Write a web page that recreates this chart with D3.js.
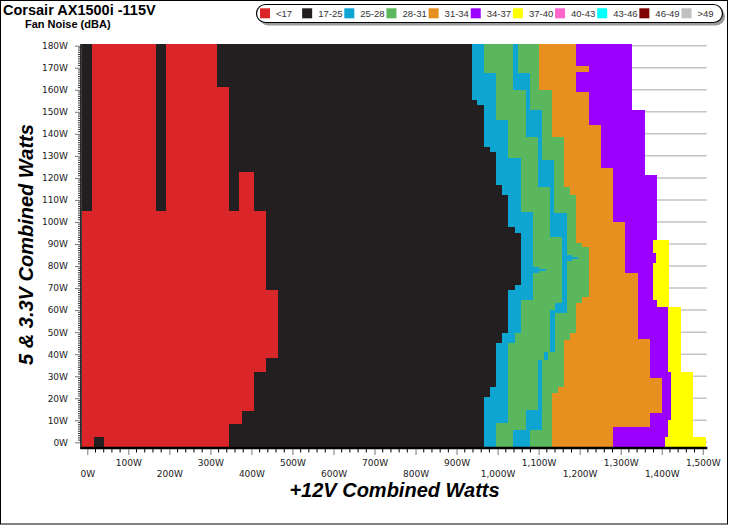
<!DOCTYPE html>
<html><head><meta charset="utf-8">
<script src="https://cdn.jsdelivr.net/npm/d3@7/dist/d3.min.js"></script>
<style>body{margin:0;background:#fff}svg{display:block}</style>
</head><body><svg id="c" width="729" height="525"></svg>
<script>
const chartTitle = "Corsair AX1500i -115V";
const chartSubtitle = "Fan Noise (dBA)";
const xTitle = "+12V Combined Watts";
const yTitle = "5 & 3.3V Combined Watts";
const legendLabels = ["<17","17-25","25-28","28-31","31-34","34-37","37-40","40-43","43-46","46-49",">49"];
const legendColors = ["#da2629","#231f20","#0ea5d3","#5bb75e","#e8901f","#9b00ff","#ffff00","#ff66cc","#00ffff","#7f0000","#c0c0c0"];
const xTicks = d3.range(0, 1501, 100);
const yTicks = d3.range(0, 181, 10);
const xExtent = [-13, 1510];
const yExtent = [-2.3, 180.8];

// Each boundary: [yTop W, yBottom W, right edge of the class in +12V W]
const yellowEdge = [[91.8,61.5,1417],[61.5,32.0,1446],[32.0,2.5,1477],[2.5,-2.3,1507]];
const purpleEdge = [[180.8,150.8,1327],[150.8,121.3,1359],[121.3,91.8,1388],[91.8,85.8,1378],[85.8,81.5,1386],[81.5,64.6,1378],[64.6,61.5,1388],[61.5,32.0,1415],[32.0,10.1,1423],[10.1,2.5,1415],[2.5,-2.3,1409]];
const orangeEdge = [[180.8,170.8,1191],[170.8,168.2,1223],[168.2,159.1,1191],[159.1,144.0,1223],[144.0,124.4,1251],[124.4,100.1,1281],[100.1,76.7,1310],[76.7,46.9,1341],[46.9,29.0,1371],[29.0,13.2,1400],[13.2,7.1,1371],[7.1,-2.3,1281]];
const green2Edge = [[180.8,159.9,1102],[159.9,138.7,1132],[138.7,116.0,1162],[116.0,112.2,1176],[112.2,90.3,1191],[90.3,88.5,1206],[88.5,66.1,1223],[66.1,63.1,1206],[63.1,49.5,1191],[49.5,46.4,1176],[46.4,25.2,1162],[25.2,22.4,1147],[22.4,-2.3,1132]];
const blue2Edge = [[180.8,167.5,1050],[167.5,150.8,1079],[150.8,128.1,1108],[128.1,103.9,1138],[103.9,85.0,1168],[85.0,84.1,1182],[84.1,83.2,1197],[83.2,82.3,1182],[82.3,58.5,1168],[58.5,41.1,1140],[41.1,37.4,1123],[37.4,5.6,1108],[5.6,-2.3,1079]];
const green1Edge = [[180.8,159.9,1038],[159.9,138.7,1068],[138.7,116.0,1098],[116.0,93.3,1128],[93.3,63.1,1156],[63.1,60.0,1140],[60.0,41.1,1128],[41.1,37.4,1113],[37.4,14.7,1098],[14.7,5.6,1068],[5.6,-2.3,1038]];
const blue1Edge = [[180.8,167.5,967],[167.5,146.3,996],[146.3,128.9,1026],[128.9,104.7,1057],[104.7,79.6,1087],[79.6,78.7,1101],[78.7,77.8,1117],[77.8,76.8,1101],[76.8,64.6,1087],[64.6,49.5,1057],[49.5,44.9,1042],[44.9,8.8,1026],[8.8,-2.3,996]];
const blackEdge = [[180.8,155.4,937],[155.4,153.1,950],[153.1,134.2,967],[134.2,131.9,981],[131.9,116.8,996],[116.8,112.2,1011],[112.2,97.9,1026],[97.9,94.9,1042],[94.9,71.4,1057],[71.4,69.1,1042],[69.1,49.5,1026],[49.5,44.9,1011],[44.9,25.2,996],[25.2,20.7,981],[20.7,-2.3,967]];
// Low-load cells: [x0 W, x1 W, y0 W, y1 W]
const redCells = [[12,167,105.1,180.8],[192,316,161.4,180.8],[192,345,105.1,161.4],[370,406,105.1,122.7],[-13,435,69.1,105.1],[-13,465,38.1,69.1],[-13,435,32.0,38.1],[-13,406,14.3,32.0],[-13,377,8.3,14.3],[-13,345,-2.3,8.3]];
const blackCells = [[16,41,-2.3,2.3]];

const svg = d3.select("#c");
const x = d3.scaleLinear().domain([0, 1500]).range([87.3, 702.75]);
const y = d3.scaleLinear().domain([0, 180]).range([442.3, 45.7]);

svg.append("rect").attr("x",0.5).attr("y",0.5).attr("width",727).attr("height",523.5)
  .attr("fill","#fff").attr("stroke","#000").attr("stroke-width",1);

// gridlines
svg.append("g").selectAll("line").data(yTicks).join("line")
  .attr("x1", x(xExtent[0]) - 1).attr("x2", x(xExtent[1]))
  .attr("y1", d => y(d)).attr("y2", d => y(d))
  .attr("stroke", "#c4c4c4").attr("stroke-width", 1.5);

// cells
const cellG = svg.append("g").attr("shape-rendering", "crispEdges");
const layers = [
  [6, yellowEdge],[5, purpleEdge],[4, orangeEdge],[3, green2Edge],
  [2, blue2Edge],[3, green1Edge],[2, blue1Edge],[1, blackEdge]
];
layers.forEach(([cls, edges]) => {
  cellG.append("g").selectAll("rect").data(edges).join("rect")
    .attr("x", x(xExtent[0])).attr("y", d => y(d[0]))
    .attr("width", d => x(d[2]) - x(xExtent[0]))
    .attr("height", d => y(d[1]) - y(d[0]))
    .attr("fill", legendColors[cls]);
});
[[0, redCells],[1, blackCells]].forEach(([cls, cells]) => {
  cellG.append("g").selectAll("rect").data(cells).join("rect")
    .attr("x", d => x(d[0])).attr("y", d => y(d[3]))
    .attr("width", d => x(d[1]) - x(d[0]))
    .attr("height", d => y(d[2]) - y(d[3]))
    .attr("fill", legendColors[cls]);
});

// Y axis
const yAxis = d3.axisLeft(y).tickValues(yTicks).tickFormat(d => d + "W").tickSize(6).tickPadding(7);
const yg = svg.append("g").attr("transform", "translate(81,0)").call(yAxis);
yg.select(".domain").remove();
yg.selectAll(".tick line").attr("stroke", "#777");
yg.selectAll(".tick text").attr("font-family", "'DejaVu Sans', Verdana, sans-serif").attr("font-size", 9).attr("fill", "#222");
svg.append("g").selectAll("line").data(d3.range(0, 181, 1).filter(d => d % 10 !== 0)).join("line")
  .attr("x1", 78).attr("x2", 81).attr("y1", d => y(d)).attr("y2", d => y(d))
  .attr("stroke", "#000").attr("stroke-width", 0.8);
svg.append("line").attr("x1", 81).attr("x2", 81).attr("y1", y(yExtent[1])).attr("y2", 449)
  .attr("stroke", "#000").attr("stroke-width", 1.5);

// X axis
svg.append("line").attr("x1", 80.5).attr("x2", x(xExtent[1]) + 0.5).attr("y1", 448).attr("y2", 448)
  .attr("stroke", "#000").attr("stroke-width", 2.5);
svg.append("g").selectAll("line").data(d3.range(0, 1501, 20).filter(d => d % 100 !== 0)).join("line")
  .attr("x1", d => x(d)).attr("x2", d => x(d)).attr("y1", 449).attr("y2", 452.5)
  .attr("stroke", "#000").attr("stroke-width", 1);
const xAxis = d3.axisBottom(x).tickValues(xTicks).tickFormat(d => d3.format(",")(d) + "W").tickSize(6).tickPadding(0);
const xg = svg.append("g").attr("transform", "translate(0,449)").call(xAxis);
xg.select(".domain").remove();
xg.selectAll(".tick line").attr("stroke", "#777");
xg.selectAll(".tick text")
  .attr("font-family", "'DejaVu Sans', Verdana, sans-serif").attr("font-size", 9).attr("fill", "#222")
  .attr("dy", null)
  .attr("y", (d, i) => i % 2 === 1 ? 17 : 28);

// titles
svg.append("text").attr("x", 3).attr("y", 15).text(chartTitle)
  .attr("font-family", "'Liberation Sans', Arial, sans-serif").attr("font-weight", "bold").attr("font-size", 14.5);
svg.append("text").attr("x", 25).attr("y", 28).text(chartSubtitle)
  .attr("font-family", "'Liberation Sans', Arial, sans-serif").attr("font-weight", "bold").attr("font-size", 11);
svg.append("text").attr("x", 394.5).attr("y", 497).attr("text-anchor", "middle").text(xTitle)
  .attr("font-family", "'Liberation Sans', Arial, sans-serif").attr("font-weight", "bold").attr("font-style", "italic").attr("font-size", 20);
svg.append("text").attr("transform", "translate(33,244.5) rotate(-90)").attr("text-anchor", "middle").text(yTitle)
  .attr("font-family", "'Liberation Sans', Arial, sans-serif").attr("font-weight", "bold").attr("font-style", "italic").attr("font-size", 20);

// legend
const lg = svg.append("g");
lg.append("rect").attr("x", 259).attr("y", 7.5).attr("width", 466).attr("height", 18).attr("rx", 9)
  .attr("fill", "#9a9a9a");
lg.append("rect").attr("x", 256.5).attr("y", 4.5).attr("width", 466).attr("height", 18).attr("rx", 9)
  .attr("fill", "#fff").attr("stroke", "#000").attr("stroke-width", 1.2);
const items = lg.selectAll("g.item").data(legendLabels).join("g").attr("class", "item")
  .attr("transform", (d, i) => `translate(${260 + i * 42.15},0)`);
items.append("rect").attr("x", 0).attr("y", 8.3).attr("width", 10).attr("height", 10)
  .attr("fill", (d, i) => legendColors[i]);
items.append("text").attr("x", 16).attr("y", 16.7).text(d => d)
  .attr("font-family", "'Liberation Sans', Arial, sans-serif").attr("font-size", 9.5).attr("fill", "#333");
</script>
</body></html>
